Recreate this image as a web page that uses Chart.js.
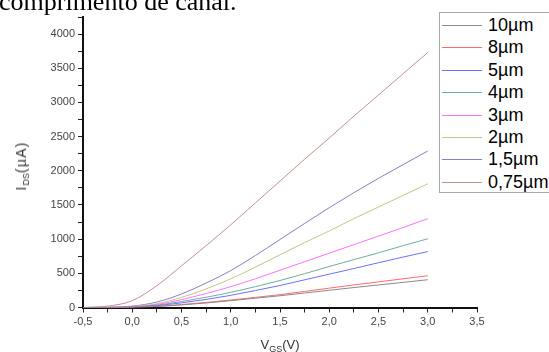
<!DOCTYPE html>
<html>
<head>
<meta charset="utf-8">
<script src="https://cdn.jsdelivr.net/npm/chart.js@4/dist/chart.umd.min.js"></script>
<style>
  html, body { margin: 0; padding: 0; background: #fff; }
  #wrap { position: relative; width: 549px; height: 352px; overflow: hidden; }
  #topText { position: absolute; left: -1px; top: -11px; font-family: "Liberation Serif", serif; font-size: 26px; line-height: 26px; color: #000; white-space: nowrap; }
  #yTitle { position: absolute; left: 22px; top: 166px; transform: translate(-50%, -50%) rotate(-90deg); font-family: "Liberation Sans", Arial, sans-serif; font-size: 14px; letter-spacing: 1.2px; color: #333; white-space: nowrap; }
  #xTitle { position: absolute; left: 280px; top: 345px; transform: translate(-50%, -50%); font-family: "Liberation Sans", Arial, sans-serif; font-size: 13px; color: #333; white-space: nowrap; }
  sub { font-size: 9px; vertical-align: -3px; letter-spacing: 0; }
  #legend { position: absolute; left: 439px; top: 12px; width: 112px; height: 181px; border: 1px solid #a8a8a8; box-sizing: border-box; background: #fff; }
  .item { position: absolute; left: 2px; height: 20px; font-family: "Liberation Sans", Arial, sans-serif; font-size: 18px; color: #000; white-space: nowrap; }
  .item span.l { position: absolute; left: 0; top: 10px; width: 40px; height: 1px; }
  .item span.t { position: absolute; left: 46px; top: 0; line-height: 20px; }
</style>
</head>
<body>
<div id="wrap">
  <canvas id="c" width="549" height="352"></canvas>
  <div id="topText">comprimento de canal.</div>
  <div id="yTitle">I<sub>DS</sub>(µA)</div>
  <div id="xTitle">V<sub>GS</sub>(V)</div>
  <div id="legend"></div>
</div>
<script>
// gate voltage samples (V)
const vgs = [-0.5, -0.25, 0, 0.25, 0.5, 0.75, 1.0, 1.25, 1.5, 1.75, 2.0, 2.25, 2.5, 2.75, 3.0];

// drain current (µA)
const l10  = [0, 0, 3, 15, 38, 66, 100, 136, 172, 212, 252, 292, 330, 368, 406];
const l8   = [0, 0, 4, 17, 43, 74, 110, 148, 188, 235, 283, 330, 375, 420, 465];
const l5   = [0, 1, 6, 27, 68, 118, 178, 248, 322, 405, 488, 570, 655, 738, 818];
const l4   = [0, 1, 8, 34, 88, 150, 222, 305, 395, 495, 600, 700, 800, 905, 1005];
const l3   = [0, 1, 10, 44, 115, 205, 305, 420, 545, 670, 795, 920, 1045, 1170, 1300];
const l2   = [0, 2, 14, 55, 148, 272, 420, 590, 770, 950, 1120, 1300, 1470, 1640, 1810];
const l1_5 = [0, 3, 20, 80, 198, 358, 540, 760, 995, 1230, 1460, 1680, 1890, 2090, 2290];
const l075 = [0, 20, 100, 320, 610, 905, 1210, 1530, 1850, 2170, 2480, 2800, 3110, 3420, 3730];

const seriesLabels = ['10µm', '8µm', '5µm', '4µm', '3µm', '2µm', '1,5µm', '0,75µm'];
const seriesData = [l10, l8, l5, l4, l3, l2, l1_5, l075];
const seriesColors = ['#8a8a8a', '#ff6a6a', '#6e6eff', '#6fae9c', '#ff70ff', '#c4c488', '#8282c2', '#c49090'];

const fmt = v => v.toFixed(1).replace('.', ',');

// html legend (it sits over the plot like in the original)
const leg = document.getElementById('legend');
seriesLabels.forEach((lab, i) => {
  const d = document.createElement('div');
  d.className = 'item';
  d.style.top = Math.round(2 + i * 22.4) + 'px';
  d.innerHTML = `<span class="l" style="background:${seriesColors[i]}"></span><span class="t">${lab}</span>`;
  leg.appendChild(d);
});

const tickFont = { family: '"Liberation Sans", Arial, sans-serif', size: 11 };

new Chart(document.getElementById('c'), {
  type: 'line',
  data: {
    datasets: seriesData.map((arr, i) => ({
      label: seriesLabels[i],
      data: arr.map((y, k) => ({ x: vgs[k], y })),
      borderColor: seriesColors[i],
      borderWidth: 1,
      pointRadius: 0,
      fill: false,
      cubicInterpolationMode: 'monotone'
    }))
  },
  options: {
    responsive: false,
    devicePixelRatio: 1,
    animation: false,
    layout: { padding: { left: 0, right: 72, top: 17, bottom: 0 } },
    plugins: { legend: { display: false }, tooltip: { enabled: false } },
    scales: {
      x: {
        type: 'linear', min: -0.5, max: 3.5,
        afterFit: s => { s.height = 44.5; s.paddingLeft = 0; s.paddingRight = 0; },
        ticks: {
          stepSize: 0.25, autoSkip: false, maxRotation: 0, padding: 3,
          color: '#444', font: tickFont,
          callback: v => Math.abs(v * 2 - Math.round(v * 2)) < 1e-6 ? fmt(v) : ''
        },
        grid: { drawOnChartArea: false, tickLength: 5, color: '#222', tickWidth: 1 },
        border: { display: true, color: '#111', width: 2 }
      },
      y: {
        min: 0, max: 4250,
        afterFit: s => { s.width = 83; s.paddingTop = 0; s.paddingBottom = 0; },
        ticks: {
          stepSize: 250, autoSkip: false, padding: 3,
          color: '#444', font: tickFont,
          callback: v => v % 500 === 0 ? String(v) : ''
        },
        grid: { drawOnChartArea: false, tickLength: 5, color: '#222', tickWidth: 1 },
        border: { display: true, color: '#111', width: 2 }
      }
    }
  }
});
</script>
</body>
</html>
